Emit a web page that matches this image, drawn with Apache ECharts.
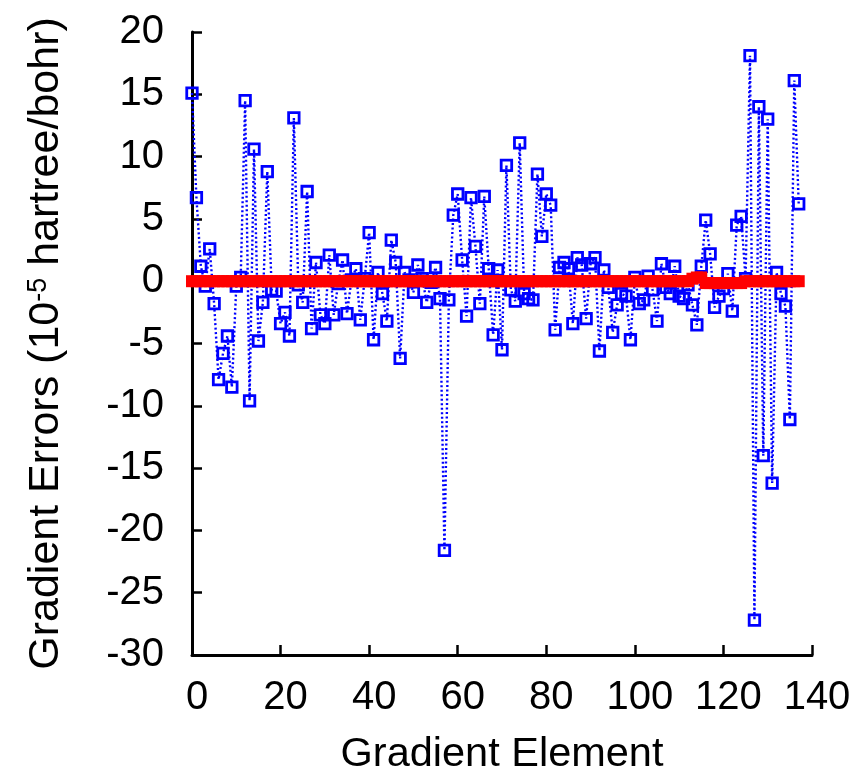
<!DOCTYPE html>
<html>
<head>
<meta charset="utf-8">
<script src="https://cdn.jsdelivr.net/npm/echarts@6/dist/echarts.min.js"></script>
<style>
html,body{margin:0;padding:0;background:#fff;}
#chart{width:860px;height:781px;}
</style>
</head>
<body>
<div id="chart"></div>
<script>
// Gradient element index 0..137
var blueErrors = [
  15.1, 6.7, 1.2, -0.4, 2.6, -1.8, -7.9, -5.8, -4.4, -8.5,
  -0.4, 0.3, 14.5, -9.6, 10.6, -4.8, -1.7, 8.8, -0.7, -0.8,
  -3.4, -2.5, -4.4, 13.1, -0.3, -1.7, 7.2, -3.8, 1.5, -2.7,
  -3.4, 2.1, -2.7, -0.2, 1.7, -2.6, 0.1, 1.0, -3.1, 0.2,
  3.9, -4.7, 0.7, -1.0, -3.2, 3.3, 1.5, -6.2, 0.7, 0.1,
  -0.9, 1.3, 0.2, -1.7, -0.1, 1.1, -1.4, -21.6, -1.5, 5.3,
  7.0, 1.7, -2.8, 6.7, 2.8, -1.8, 6.8, 1.0, -4.3, 0.9,
  -5.5, 9.3, -0.7, -1.6, 11.1, -1.0, -1.4, -1.5, 8.6, 3.6,
  7.0, 6.1, -3.9, 1.1, 1.5, 1.0, -3.4, 1.9, 1.3, -3.0,
  1.4, 1.9, -5.6, 0.9, -0.5, -4.1, -1.9, -1.0, -1.2, -4.7,
  0.3, -1.8, -1.5, 0.4, -0.7, -3.2, 1.4, -0.5, -1.0, 1.2,
  -1.2, -1.4, -0.3, -1.9, -3.5, 1.2, 4.9, 2.2, -2.1, -1.2,
  -0.6, 0.6, -2.4, 4.5, 5.2, 0.2, 18.1, -27.2, 14.0, -14.0,
  13.0, -16.2, 0.7, -1.0, -2.0, -11.1, 16.1, 6.2
];
var redErrors = [
  0, 0, 0, 0, 0, 0, 0, 0, 0, 0,
  0, 0, 0, 0, 0, 0, 0, 0, 0, 0,
  0, 0, 0, 0, 0, 0, 0, 0, 0, 0,
  0, 0, 0, 0, 0, 0, 0, 0, 0, 0,
  0, 0, 0, 0, 0, 0, 0, 0, 0, 0,
  0, 0, 0, 0, 0, 0, 0, 0, 0, 0,
  0, 0, 0, 0, 0, 0, 0, 0, 0, 0,
  0, 0, 0, 0, 0, 0, 0, 0, 0, 0,
  0, 0, 0, 0, 0, 0, 0, 0, 0, 0,
  0, 0, 0, 0, 0, 0, 0, 0, 0, 0,
  0, 0, 0, 0, 0, 0, 0, 0, 0, 0,
  0, 0, 0, 0.2, 0.3, 0.3, -0.15, -0.15, -0.15, -0.15,
  -0.15, -0.15, -0.15, -0.15, -0.15, 0, 0, 0, 0, 0,
  0, 0, 0, 0, 0, 0, 0, 0
];
var xTicks = [0, 20, 40, 60, 80, 100, 120, 140];
var yTicks = [-30, -25, -20, -15, -10, -5, 0, 5, 10, 15, 20];

function pairs(arr) {
  return arr.map(function (v, i) { return [i, v]; });
}

var FONT = '"Liberation Sans", Arial, sans-serif';
var chart = echarts.init(document.getElementById('chart'), null, { renderer: 'canvas' });
chart.setOption({
  animation: false,
  backgroundColor: '#ffffff',
  grid: { left: 192, right: 48, top: 32, bottom: 126, containLabel: false },
  xAxis: {
    type: 'value',
    min: xTicks[0],
    max: xTicks[xTicks.length - 1],
    interval: 20,
    name: 'Gradient Element',
    nameLocation: 'middle',
    nameGap: 79,
    nameTextStyle: { fontFamily: FONT, fontSize: 41.5, color: '#000' },
    axisLine: { onZero: false, lineStyle: { color: '#000', width: 3 } },
    axisTick: { inside: true, length: 10, lineStyle: { color: '#000', width: 2.5 } },
    axisLabel: { fontFamily: FONT, fontSize: 40, color: '#000', margin: 23, padding: [0, 0, 0, 10] },
    splitLine: { show: false }
  },
  yAxis: {
    type: 'value',
    min: yTicks[0],
    max: yTicks[yTicks.length - 1],
    interval: 5,
    name: 'Gradient Errors (10{sup|-5} hartree/bohr)',
    nameLocation: 'middle',
    nameGap: 124,
    nameTextStyle: {
      fontFamily: FONT, fontSize: 43, color: '#000',
      rich: {
        sup: { fontFamily: FONT, fontSize: 27, color: '#000', verticalAlign: 'top', lineHeight: 43 }
      }
    },
    axisLine: { onZero: false, lineStyle: { color: '#000', width: 3 } },
    axisTick: { inside: true, length: 10, lineStyle: { color: '#000', width: 2.5 } },
    axisLabel: { fontFamily: FONT, fontSize: 40, color: '#000', margin: 28 },
    splitLine: { show: false }
  },
  series: [
    {
      type: 'line',
      data: pairs(blueErrors),
      symbol: 'rect',
      symbolSize: 10.5,
      showAllSymbol: true,
      itemStyle: { color: 'rgba(0,0,0,0)', borderColor: '#0000ff', borderWidth: 2.8 },
      lineStyle: { color: '#0000ff', width: 2.4, type: [2, 2.5] },
      z: 2,
      clip: false
    },
    {
      type: 'line',
      data: pairs(redErrors),
      symbol: 'rect',
      symbolSize: 12,
      showAllSymbol: true,
      itemStyle: { color: '#ff0000', borderWidth: 0 },
      lineStyle: { color: '#ff0000', width: 6 },
      z: 3,
      clip: false
    }
  ]
});
</script>
</body>
</html>
